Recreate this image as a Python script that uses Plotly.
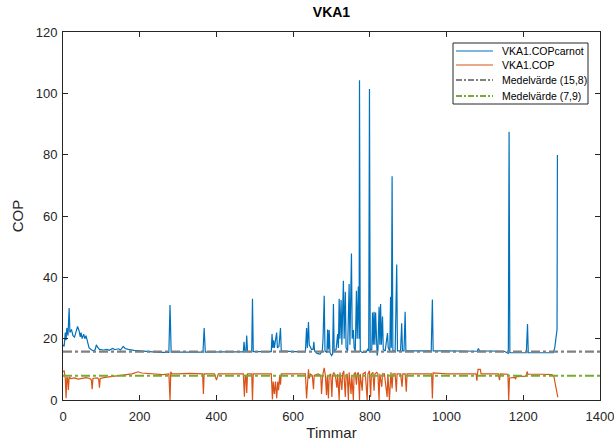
import plotly.graph_objects as go

# Hours / values (breakpoints of the traces)
carnot_h = [0, 3, 6, 8, 10, 13, 16, 18, 22, 26, 30, 34, 38, 42, 45, 47, 50, 54, 57, 60, 63, 68, 75, 80, 84, 87, 90, 95, 105, 115, 120, 130, 135, 145, 150, 157, 162, 170, 185, 200, 230, 250, 276, 279, 282, 300, 365, 368, 371, 420, 470, 472, 474, 477, 479, 481, 492, 494, 496, 543, 545, 547, 549, 551, 557, 559, 563, 567, 569, 600, 632, 635, 637, 640, 642, 646, 648, 652, 654, 656, 662, 670, 674, 676, 678, 681, 683, 688, 690, 692, 694, 696, 700, 703, 705, 707, 712, 716, 718, 720, 722, 725, 727, 731, 733, 736, 738, 742, 746, 748, 752, 754, 757, 759, 762, 765, 767, 770, 772, 773, 775, 780, 790, 794, 797, 799, 801, 805, 807, 809, 811, 813, 815, 817, 819, 821, 824, 826, 828, 830, 833, 835, 840, 846, 848, 852, 854, 856, 858, 860, 866, 870, 872, 880, 883, 885, 889, 892, 894, 920, 960, 963, 965, 1000, 1060, 1080, 1083, 1086, 1150, 1158, 1161, 1163, 1165, 1208, 1211, 1213, 1250, 1278, 1282, 1286, 1288, 1289]
carnot_v = [18, 17.5, 22, 19.5, 23.5, 21, 30, 22, 23, 21, 20.5, 22, 24, 22.5, 20.6, 22, 20, 21.5, 20, 21, 19, 17, 16.3, 16, 16.5, 18, 17.2, 16.5, 16.3, 16.5, 16.2, 16.8, 16.4, 16.7, 16.3, 17.5, 16.8, 16.5, 16.2, 16, 15.7, 15.5, 15.5, 31, 15.6, 15.6, 15.6, 23.5, 15.6, 15.7, 15.7, 19, 16, 16, 21, 15.8, 15.8, 33, 15.8, 15.8, 21.5, 17, 19.5, 17, 22, 17, 17.5, 23.5, 16, 15.8, 15.8, 23.5, 17, 25.4, 18, 17, 16.5, 16.5, 19, 16, 15.2, 15, 15.5, 16, 20, 34, 16, 15.5, 23, 16.5, 22.8, 15.5, 14.5, 15, 31.3, 16, 16.5, 21.5, 17, 33, 20, 32.6, 18, 38.9, 20, 35.3, 17, 16, 37.8, 18, 47.8, 20, 22.8, 17, 16, 35.6, 20, 37, 20, 104.3, 16, 15.5, 15.5, 16.5, 16, 101.4, 16, 16.5, 28.5, 18, 28.8, 18, 28.5, 15.5, 14.5, 16, 30.4, 18, 31.3, 18, 27.2, 16.5, 16, 21.8, 17, 16, 33.7, 17, 73, 16, 16, 44.2, 16, 16, 25, 16, 16, 28.8, 16, 16, 16, 32.8, 16, 16, 15.9, 15.9, 16.8, 16, 15.9, 15.2, 15.2, 87.5, 15.4, 15.4, 24.8, 15.4, 15.3, 15.4, 17, 21.7, 23, 79.9]

cop_h = [0, 3, 6, 8, 10, 12, 14, 16, 20, 30, 40, 50, 60, 70, 74, 76, 78, 90, 93, 95, 97, 110, 130, 150, 180, 190, 196, 205, 230, 260, 276, 279, 281, 284, 300, 330, 364, 366, 368, 395, 400, 405, 470, 473, 475, 477, 479, 481, 492, 494, 496, 543, 546, 548, 551, 554, 557, 560, 562, 565, 567, 569, 600, 632, 635, 638, 640, 642, 645, 650, 653, 655, 665, 672, 674, 677, 681, 684, 687, 689, 692, 694, 698, 701, 703, 706, 710, 714, 716, 720, 722, 727, 729, 732, 736, 738, 741, 744, 746, 751, 753, 757, 759, 762, 765, 767, 770, 773, 775, 780, 782, 788, 793, 795, 799, 802, 804, 808, 811, 813, 818, 821, 824, 826, 831, 833, 838, 845, 847, 851, 853, 855, 858, 860, 866, 869, 871, 880, 884, 886, 892, 895, 897, 930, 961, 963, 965, 1000, 1040, 1077, 1079, 1081, 1082, 1088, 1090, 1135, 1138, 1140, 1160, 1162, 1164, 1178, 1180, 1182, 1208, 1210, 1212, 1250, 1275, 1280, 1284, 1288, 1290]
cop_v = [9.3, 9.5, 7, 0.6, 7.5, 7, 3.3, 7.5, 7, 7.2, 6.8, 7, 7.3, 7, 6.5, 3.5, 7, 7.2, 6.8, 4, 7, 7.4, 7.6, 8, 8.5, 9, 9.2, 8.8, 8.5, 8.3, 8.5, 0, 9.2, 8.5, 8.5, 8.7, 8.5, 2, 8.5, 8.5, 6.5, 8.5, 8.5, 1.1, 8, 8, 2.3, 8.5, 8.5, 0, 8.5, 8.5, 0.2, 6, 2, 6, 0.6, 6, 3.2, 8, 5, 8.5, 8.5, 8.5, 0.5, 8, 10, 7, 8.5, 8, 3.5, 8, 8.5, 8, 2, 8, 10.5, 8, 1.6, 8, 0.5, 8, 8.5, 1, 8, 9, 8, 4, 8.5, 0, 9, 3.3, 8.5, 9.5, 1, 8, 8.5, 0, 9, 2, 8, 0, 8.5, 9, 5, 8.5, 9, 0, 8.5, 3, 8.5, 9, 0, 8.5, 9.5, 1, 8.5, 9, 3, 8.5, 9, 8.5, 0, 8.5, 4.3, 8.5, 8.5, 1, 8.5, 0, 8.5, 9, 3.8, 8.5, 8.5, 2.7, 8.5, 8.5, 4.3, 8.5, 8.5, 2.7, 8.5, 8.6, 8.5, 0.5, 8.8, 8.5, 8.4, 8.5, 6.3, 8, 10, 10, 8.5, 8.5, 6.5, 8.5, 8.4, 0, 7.2, 7.4, 6.8, 7.6, 7.8, 9.3, 8.4, 8.4, 8.3, 7.5, 4.3, 2, 0.9]

mean_carnot = 15.8
mean_cop = 7.9
x_range = [0, 1400]
x_ticks = [0, 200, 400, 600, 800, 1000, 1200, 1400]
y_ticks = [0, 20, 40, 60, 80, 100, 120]
series_names = ["VKA1.COPcarnot", "VKA1.COP", "Medelvärde (15,8)", "Medelvärde (7,9)"]

FONT = "Liberation Sans, Arial, sans-serif"
colors = ["#0072BD", "#D95319", "#808080", "#77AC30"]
widths = [1.2, 1.2, 2.2, 2.2]
dashes = ["solid", "solid", "dashdot", "dashdot"]

fig = go.Figure()
fig.add_trace(go.Scatter(x=carnot_h, y=carnot_v, mode="lines", name=series_names[0],
                         line=dict(color=colors[0], width=widths[0])))
fig.add_trace(go.Scatter(x=cop_h, y=cop_v, mode="lines", name=series_names[1],
                         line=dict(color=colors[1], width=widths[1])))
fig.add_trace(go.Scatter(x=x_range, y=[mean_carnot, mean_carnot], mode="lines",
                         name=series_names[2],
                         line=dict(color=colors[2], width=widths[2], dash=dashes[2])))
fig.add_trace(go.Scatter(x=x_range, y=[mean_cop, mean_cop], mode="lines",
                         name=series_names[3],
                         line=dict(color=colors[3], width=widths[3], dash=dashes[3])))

# plot area in pixels: x 63..600, y 32..400
L, R, T, B = 63, 600, 32, 400
def px(xp):
    return (xp - L) / (R - L)
def py(yp):
    return (B - yp) / (B - T)

# legend drawn as layout decoration (compact row spacing like the original)
shapes = [dict(type="rect", xref="paper", yref="paper",
               x0=px(453), x1=px(588), y0=py(104), y1=py(43),
               line=dict(color="#262626", width=1), fillcolor="white", layer="above")]
annotations = []
row_y = [51, 65, 80, 96]
for i, name in enumerate(series_names):
    shapes.append(dict(type="line", xref="paper", yref="paper",
                       x0=px(456), x1=px(493), y0=py(row_y[i]), y1=py(row_y[i]),
                       line=dict(color=colors[i], width=widths[i] if i < 2 else 2,
                                 dash="solid" if i < 2 else "6px,2px,2px,2px"),
                       layer="above"))
    annotations.append(dict(text=name, xref="paper", yref="paper",
                            x=px(500), y=py(row_y[i]), xanchor="left", yanchor="middle",
                            showarrow=False,
                            font=dict(family=FONT, size=10.5, color="#000000")))

axis_common = dict(showgrid=False, zeroline=False, showline=True, linecolor="#262626",
                   linewidth=1, mirror="ticks", ticks="inside", ticklen=5,
                   tickcolor="#262626", automargin=False,
                   tickfont=dict(family=FONT, size=13, color="#262626"))

fig.update_layout(
    width=614, height=442,
    margin=dict(l=L, r=614 - R, t=T, b=442 - B),
    paper_bgcolor="white", plot_bgcolor="white",
    title=dict(text="<b>VKA1</b>", x=(L + R) / 2 / 614, xanchor="center",
               y=1 - 12 / 442, yanchor="middle",
               font=dict(family=FONT, size=14, color="#000000")),
    xaxis=dict(range=x_range, tickvals=x_ticks, ticktext=[str(t) for t in x_ticks],
               ticklabeloverflow="allow", ticklabelstandoff=4,
               title=dict(text="Timmar", font=dict(family=FONT, size=15, color="#262626"),
                          standoff=4),
               **axis_common),
    yaxis=dict(range=[0, 120], tickvals=y_ticks, ticktext=[str(t) for t in y_ticks],
               ticklabelstandoff=2,
               title=dict(text="COP", font=dict(family=FONT, size=15, color="#262626"),
                          standoff=8),
               **axis_common),
    shapes=shapes,
    annotations=annotations,
    showlegend=False,
)

fig.write_html("out.html")
